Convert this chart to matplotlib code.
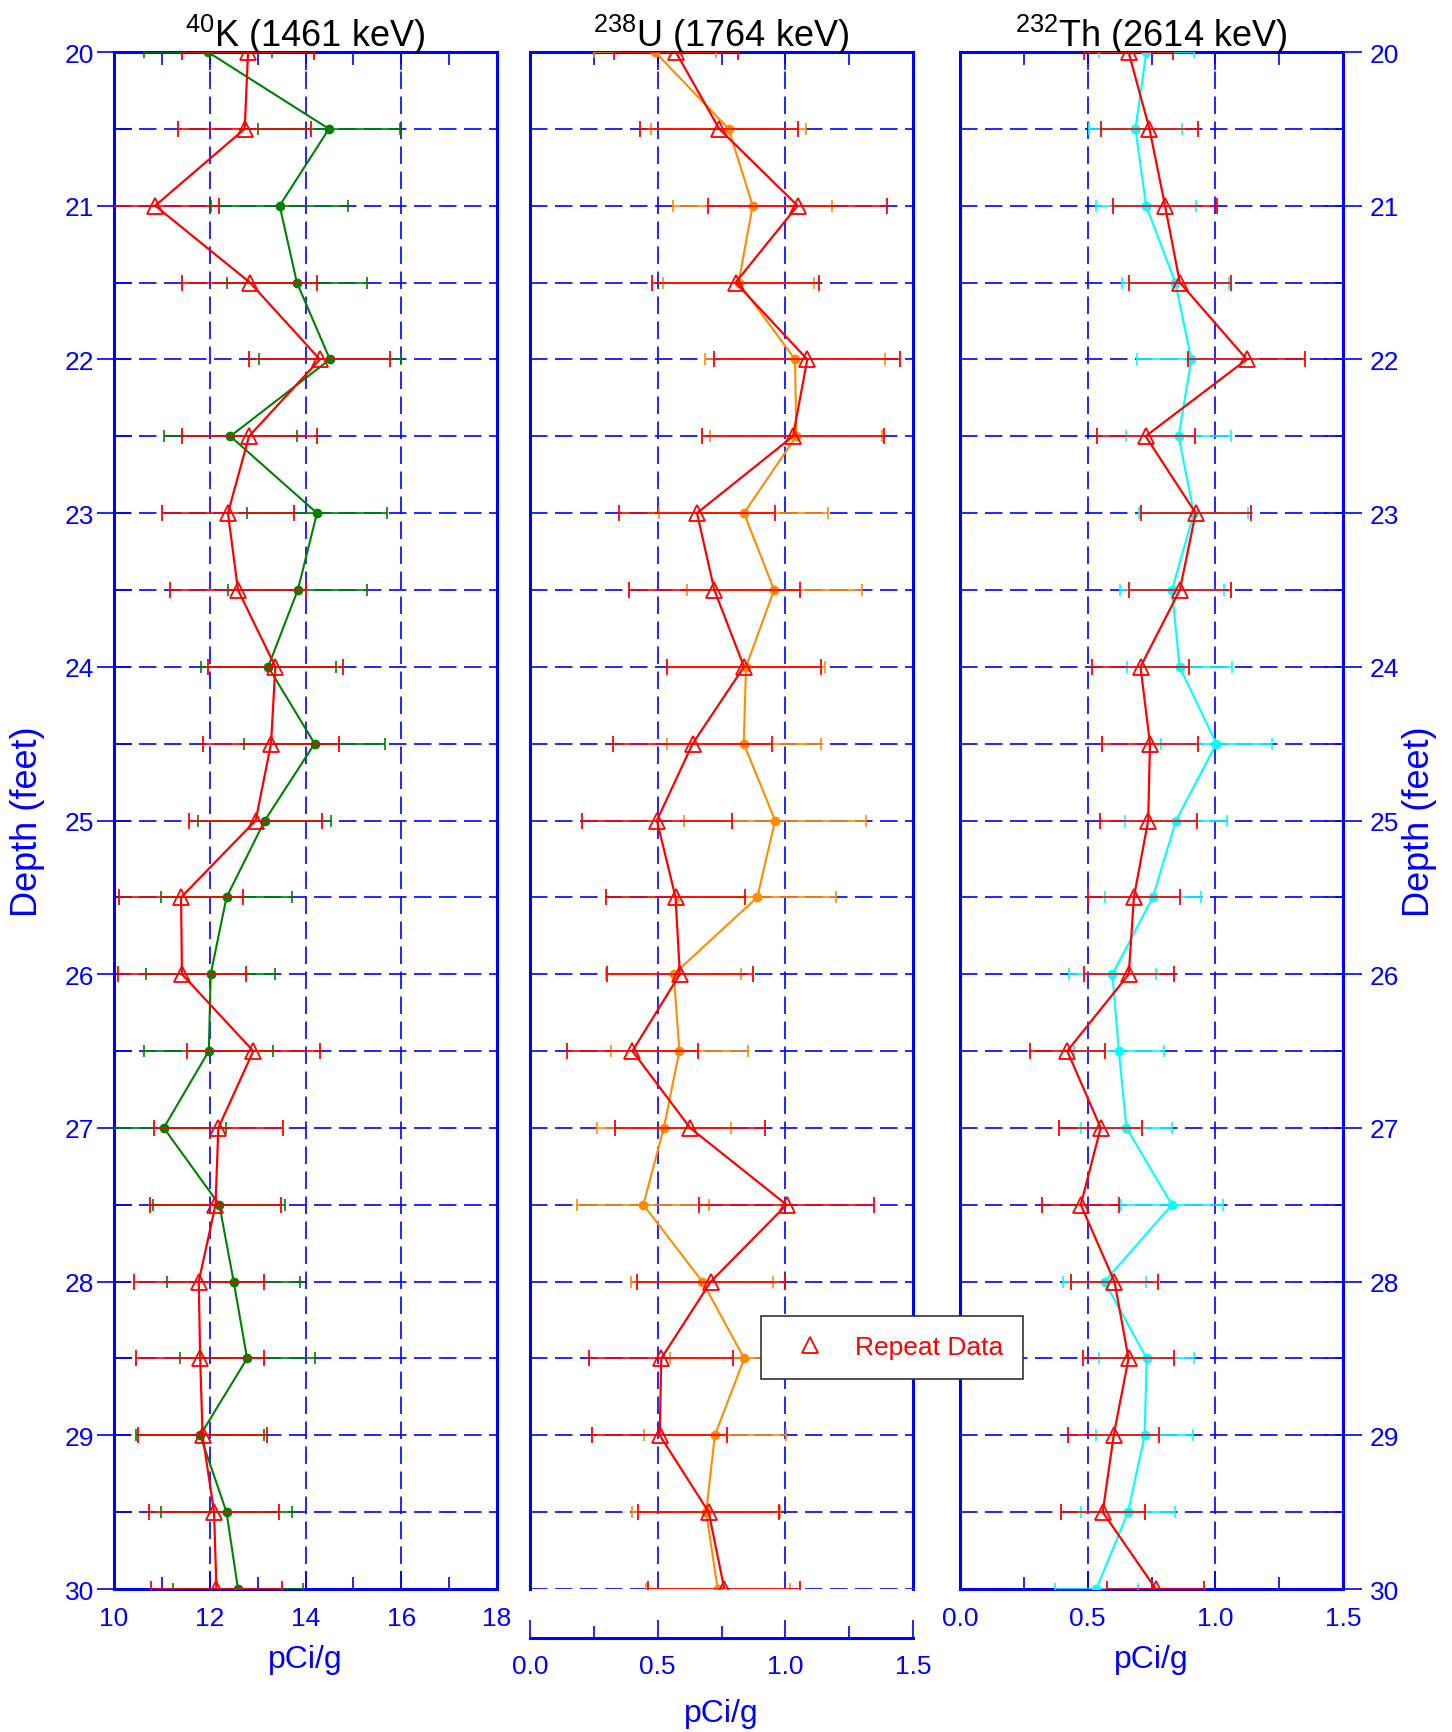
import matplotlib
matplotlib.use('Agg')
import numpy as np
import matplotlib.pyplot as plt
from matplotlib.lines import Line2D
from matplotlib.ticker import FormatStrFormatter
from matplotlib.transforms import offset_copy

plt.rcParams['font.family'] = ['Liberation Sans', 'DejaVu Sans']
plt.rcParams['mathtext.fontset'] = 'custom'
plt.rcParams['mathtext.rm'] = 'Liberation Sans'

# depth in feet, 20 .. 30 every half foot
depth = [20.0, 20.5, 21.0, 21.5, 22.0, 22.5, 23.0, 23.5, 24.0, 24.5, 25.0,
         25.5, 26.0, 26.5, 27.0, 27.5, 28.0, 28.5, 29.0, 29.5, 30.0]

# 40K (1461 keV)
k_main = [11.96, 14.49, 13.46, 13.82, 14.51, 12.43, 14.24, 13.84, 13.22, 14.19, 13.15,
          12.35, 12.02, 11.98, 11.04, 12.20, 12.50, 12.78, 11.80, 12.35, 12.59]
k_main_err = [1.34, 1.48, 1.43, 1.47, 1.48, 1.39, 1.47, 1.45, 1.41, 1.48, 1.39,
              1.37, 1.35, 1.35, 1.29, 1.38, 1.39, 1.41, 1.34, 1.37, 1.36]
k_rep = [12.80, 12.73, 10.86, 12.84, 14.30, 12.82, 12.38, 12.59, 13.37, 13.28, 12.96,
         11.40, 11.42, 12.91, 12.18, 12.12, 11.77, 11.80, 11.85, 12.09, 12.14]
k_rep_err = [1.38, 1.39, 1.33, 1.41, 1.47, 1.41, 1.37, 1.41, 1.41, 1.42, 1.39,
             1.30, 1.33, 1.39, 1.35, 1.37, 1.36, 1.34, 1.34, 1.36, 1.36]

# 238U (1764 keV)
u_main = [0.490, 0.778, 0.872, 0.817, 1.038, 1.043, 0.838, 0.956, 0.846, 0.837, 0.960,
          0.890, 0.563, 0.585, 0.524, 0.444, 0.675, 0.839, 0.724, 0.690, 0.735]
u_main_err = [0.240, 0.303, 0.310, 0.296, 0.352, 0.337, 0.331, 0.343, 0.308, 0.301, 0.355,
              0.309, 0.264, 0.268, 0.262, 0.258, 0.278, 0.290, 0.277, 0.290, 0.282]
u_rep = [0.571, 0.741, 1.048, 0.805, 1.086, 1.030, 0.654, 0.722, 0.838, 0.637, 0.497,
         0.570, 0.587, 0.401, 0.627, 1.005, 0.708, 0.514, 0.508, 0.700, 0.761]
u_rep_err = [0.243, 0.309, 0.350, 0.328, 0.365, 0.357, 0.307, 0.335, 0.302, 0.310, 0.293,
             0.271, 0.285, 0.257, 0.294, 0.342, 0.290, 0.282, 0.265, 0.276, 0.298]

# 232Th (2614 keV)
th_main = [0.730, 0.687, 0.729, 0.843, 0.906, 0.856, 0.916, 0.830, 0.860, 1.004, 0.846,
           0.755, 0.597, 0.622, 0.652, 0.830, 0.566, 0.731, 0.723, 0.658, 0.534]
th_main_err = [0.186, 0.183, 0.195, 0.210, 0.211, 0.204, 0.213, 0.204, 0.207, 0.218, 0.201,
               0.189, 0.172, 0.177, 0.180, 0.200, 0.163, 0.186, 0.189, 0.185, 0.163]
th_rep = [0.660, 0.742, 0.803, 0.861, 1.123, 0.727, 0.923, 0.861, 0.707, 0.744, 0.737,
          0.681, 0.661, 0.420, 0.551, 0.473, 0.605, 0.660, 0.602, 0.559, 0.767]
th_rep_err = [0.176, 0.190, 0.203, 0.200, 0.229, 0.192, 0.215, 0.200, 0.190, 0.189, 0.190,
              0.180, 0.177, 0.146, 0.163, 0.150, 0.171, 0.177, 0.178, 0.165, 0.190]

titles = [r'$^{40}$K (1461 keV)', r'$^{238}$U (1764 keV)', r'$^{232}$Th (2614 keV)']

W, H = 1452, 1733
blue = '#0000ff'
dash = (0, (10.5, 4.5))

fig = plt.figure(figsize=(W / 100, H / 100), dpi=100)

top, bot = 53, 1590
lefts = [114, 530, 960]
width = 383

panels = [
    (k_main, k_main_err, k_rep, k_rep_err, '#008000', (10, 18), [10, 12, 14, 16, 18], [11, 13, 15, 17], '%d'),
    (u_main, u_main_err, u_rep, u_rep_err, '#ff8c00', (0, 1.5), [0, 0.5, 1.0, 1.5], [0.25, 0.75, 1.25], '%.1f'),
    (th_main, th_main_err, th_rep, th_rep_err, '#00ffff', (0, 1.5), [0, 0.5, 1.0, 1.5], [0.25, 0.75, 1.25], '%.1f'),
]

axes = []
for i, (m, me, r, re, col, xlim, maj, mnr, fmt) in enumerate(panels):
    ax = fig.add_axes([lefts[i] / W, (H - bot) / H, width / W, (bot - top) / H])
    axes.append(ax)

    ax.errorbar(m, depth, xerr=me, fmt='-o', color=col, ms=6, lw=1.5,
                elinewidth=1.2, capsize=4, capthick=1.2, zorder=3)
    ax.errorbar(r, depth, xerr=re, fmt='-^', color='red', mfc='none', mec='red',
                ms=12, mew=1.3, lw=1.6, elinewidth=1.2, capsize=5.5, capthick=1.2, zorder=4)

    ax.set_xlim(*xlim)
    ax.set_ylim(30, 20)
    ax.set_xticks(maj)
    ax.set_xticks(mnr, minor=True)
    ax.xaxis.set_major_formatter(FormatStrFormatter(fmt))
    ax.set_yticks(np.arange(20, 31, 1))
    ax.set_yticks(np.arange(20.5, 30, 1), minor=True)

    ax.grid(True, axis='y', which='both', color=blue, ls=dash, lw=1.2)
    ax.grid(True, axis='x', which='major', color=blue, ls=dash, lw=1.2)

    for s in ax.spines.values():
        s.set_color(blue)
        s.set_linewidth(2.2)

    ax.tick_params(axis='x', which='both', direction='in', top=True, bottom=True,
                   colors=blue, labelsize=19, pad=12, width=1.2)
    ax.tick_params(axis='x', which='major', length=13)
    ax.tick_params(axis='x', which='minor', length=9)

    # title sits just on the top frame
    ax.text(0.5, 1.0, titles[i], fontsize=26, ha='center', va='baseline',
            transform=offset_copy(ax.transAxes, fig=fig, y=4, units='points'))
    ax.set_xlabel('pCi/g', fontsize=23, color=blue, labelpad=14 if i == 1 else 10)

ax1, ax2, ax3 = axes

ax1.tick_params(axis='y', which='major', direction='inout', length=25, left=True, right=False,
                labelleft=True, colors=blue, labelsize=19, pad=2, width=1.2)
ax1.tick_params(axis='y', which='minor', direction='in', length=13, left=True, right=False, color=blue, width=1.2)
ax1.set_ylabel('Depth (feet)', fontsize=26, color=blue, labelpad=14)

ax2.tick_params(axis='y', which='both', length=0, labelleft=False)
ax2.spines['bottom'].set_position(('outward', 35))

ax3.tick_params(axis='y', which='major', direction='inout', length=27, left=False, right=True,
                labelleft=False, labelright=True, colors=blue, labelsize=19, pad=6, width=1.2)
ax3.tick_params(axis='y', which='minor', direction='in', length=13, left=False, right=True, color=blue, width=1.2)
ax3.yaxis.set_label_position('right')
ax3.set_ylabel('Depth (feet)', fontsize=26, color=blue, labelpad=2)

handle = Line2D([], [], ls='none', marker='^', mfc='none', mec='red', ms=12, mew=1.3)
leg = fig.legend(handles=[handle], labels=['Repeat Data'], loc='center',
                 bbox_to_anchor=(892 / W, 1 - 1348.5 / H), fontsize=19, labelcolor='red',
                 fancybox=False, edgecolor='#333333', framealpha=1,
                 borderpad=0.75, handlelength=2.2, handletextpad=0.6)
leg.get_frame().set_linewidth(1.2)

fig.savefig('out.png', dpi=100)
